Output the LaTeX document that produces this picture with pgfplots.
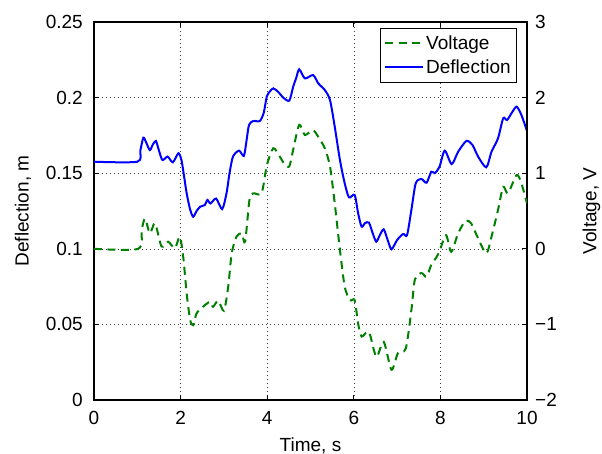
\documentclass[border=0pt]{standalone}
\usepackage{fontspec}
\setmainfont{Liberation Sans}
\usepackage{pgfplots}
\pgfplotsset{compat=1.18}
\definecolor{mblue}{rgb}{0,0,1}
\definecolor{mgreen}{rgb}{0,0.5,0}
\begin{document}
\begin{tikzpicture}[font=\fontsize{19}{22}\selectfont]
\path[use as bounding box] (0,0) rectangle (602pt,454pt);
\pgfplotsset{
  myax/.style={
    at={(94pt,54pt)}, anchor=south west, scale only axis,
    width=433pt, height=378pt,
    xmin=0, xmax=10,
    /pgf/number format/assume math mode=true,
    tick align=inside, major tick length=5pt,
    tick style={line width=0.8pt, black},
    axis line style={line width=1.1pt, -},
    legend image code/.code={\draw[##1] (0pt,0pt) -- (38pt,0pt);},
  },
}
\begin{axis}[myax,
  ymin=0, ymax=0.25,
  xtick={0,2,4,6,8,10},
  ytick={0,0.05,0.1,0.15,0.2,0.25},
  yticklabels={0,0.05,0.1,0.15,0.2,0.25},
  xtick pos=both, ytick pos=left,
  grid=major,
  grid style={line width=0.5pt, dash pattern=on 1pt off 3pt, black!75},
  xticklabel style={anchor=north, inner sep=0pt, yshift=-11pt},
  yticklabel style={anchor=east, inner sep=0pt, xshift=-11pt},
  xlabel={Time, s},
  ylabel={Deflection, m},
  xlabel style={at={(axis description cs:0.5,-0.099)}, anchor=north, inner sep=0pt},
  ylabel style={at={(axis description cs:-0.164,0.5)}, anchor=center, inner sep=0pt, rotate=0},
]
\addplot[mblue, line width=2pt, smooth, tension=0.45] coordinates {
(0,0.1576) (1.0,0.1576) (1.07,0.165) (1.14,0.1735) (1.21,0.170) (1.29,0.1653)
(1.36,0.169) (1.43,0.1713) (1.50,0.165) (1.58,0.1587) (1.70,0.161) (1.82,0.1572)
(1.95,0.1632) (2.02,0.1587) (2.08,0.148) (2.14,0.1367) (2.22,0.126) (2.29,0.1212)
(2.37,0.125) (2.45,0.1278) (2.56,0.129) (2.62,0.1323) (2.69,0.130) (2.82,0.1332)
(2.96,0.1263) (3.06,0.1367) (3.13,0.150) (3.21,0.161) (3.35,0.1649) (3.46,0.1614)
(3.52,0.171) (3.58,0.1819) (3.68,0.1845) (3.83,0.1845) (3.92,0.190) (3.99,0.2006)
(4.06,0.204) (4.14,0.2061) (4.25,0.2039) (4.37,0.2) (4.51,0.198) (4.60,0.2072)
(4.67,0.213) (4.74,0.2187) (4.87,0.2127) (5.06,0.2149) (5.18,0.2094) (5.33,0.205)
(5.45,0.1984) (5.56,0.1807) (5.68,0.1587) (5.79,0.1433) (5.89,0.134) (6.02,0.1356)
(6.10,0.1235) (6.18,0.1146) (6.26,0.117) (6.35,0.1173) (6.44,0.110) (6.52,0.1047)
(6.60,0.109) (6.69,0.1129) (6.78,0.106) (6.87,0.0997) (7.00,0.1058) (7.14,0.1098)
(7.23,0.1091) (7.33,0.1257) (7.43,0.1433) (7.56,0.1462) (7.68,0.1437) (7.79,0.151)
(7.87,0.150) (7.98,0.1543) (8.10,0.1649) (8.26,0.156) (8.41,0.1642) (8.60,0.1713)
(8.74,0.1687) (8.87,0.161) (9.06,0.1539) (9.18,0.1642) (9.33,0.173) (9.45,0.1863)
(9.54,0.1852) (9.65,0.190) (9.76,0.194) (9.87,0.1885) (10.0,0.178)
};
\end{axis}
\begin{axis}[myax,
  ymin=-2, ymax=3,
  axis y line*=right, axis x line=none,
  ytick={-2,-1,0,1,2,3},
  yticklabels={−2,−1,0,1,2,3},
  yticklabel style={anchor=west, inner sep=0pt, xshift=8pt},
  ylabel={Voltage, V},
  ylabel style={at={(axis description cs:1.149,0.5)}, anchor=center, inner sep=0pt, rotate=0},
  legend cell align=left,
  legend style={at={(0.977,0.984)}, anchor=north east, draw=black, line width=0.8pt,
    fill=white, inner xsep=4pt, inner ysep=5pt, row sep=5pt,
    font=\fontsize{19}{22}\selectfont},
]
\addplot[mgreen, line width=2pt, dash pattern=on 8pt off 5.5pt, smooth, tension=0.45] coordinates {
(0,0) (1.02,0) (1.10,0.25) (1.18,0.40) (1.29,0.205) (1.41,0.337) (1.56,0.03)
(1.71,0.094) (1.87,0.007) (1.98,0.16) (2.06,-0.104) (2.14,-0.59) (2.22,-0.94)
(2.29,-1.01) (2.37,-0.853) (2.52,-0.766) (2.68,-0.70) (2.75,-0.766) (2.87,-0.686)
(3.0,-0.82) (3.10,-0.50) (3.18,-0.06) (3.29,0.16) (3.41,0.205) (3.49,0.094)
(3.59,0.645) (3.68,0.734) (3.87,0.734) (3.99,1.10) (4.14,1.33) (4.29,1.22)
(4.40,1.12) (4.51,1.09) (4.60,1.31) (4.74,1.64) (4.87,1.505) (5.06,1.57)
(5.20,1.46) (5.33,1.33) (5.45,1.09) (5.56,0.60) (5.68,-0.016) (5.79,-0.50)
(5.91,-0.68) (6.02,-0.68) (6.10,-0.99) (6.18,-1.16) (6.35,-1.10) (6.52,-1.43)
(6.69,-1.23) (6.87,-1.60) (7.02,-1.38) (7.20,-1.32) (7.33,-0.81) (7.41,-0.41)
(7.56,-0.32) (7.68,-0.37) (7.79,-0.21) (7.90,-0.12) (7.98,-0.03) (8.13,0.18)
(8.25,-0.04) (8.41,0.205) (8.58,0.37) (8.71,0.337) (8.87,0.139) (9.06,-0.06)
(9.18,0.16) (9.33,0.513) (9.45,0.82) (9.56,0.734) (9.76,0.976) (9.87,0.866)
(10.0,0.60)
};
\addlegendentry{Voltage}
\addlegendimage{mblue, line width=2pt}
\addlegendentry{Deflection}
\end{axis}
\end{tikzpicture}
\end{document}
